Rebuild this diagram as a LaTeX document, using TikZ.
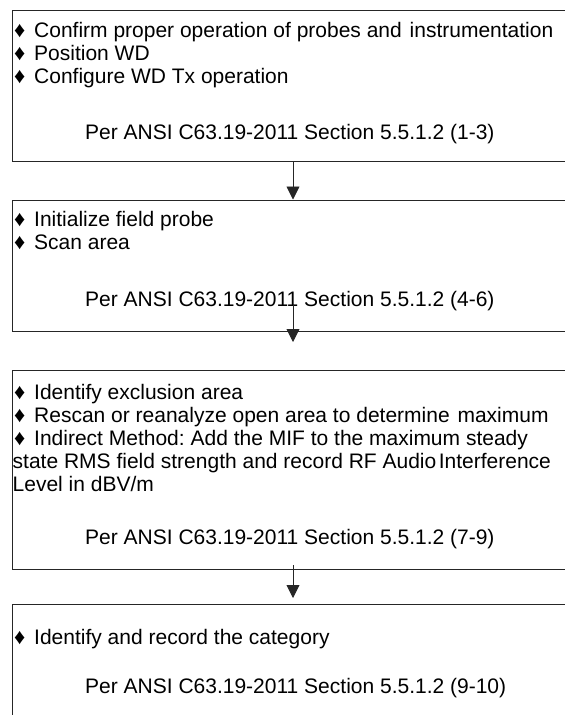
\documentclass[tikz,border=0pt]{standalone}
\usepackage{fontspec}
\setmainfont{Liberation Sans}
\usetikzlibrary{arrows.meta}
\newcommand\mydia{\makebox[20pt][l]{\fontsize{22}{22}\selectfont ♦}}
\tikzset{
  box/.style={draw=black!85, line width=0.9pt, rectangle, inner sep=0pt, anchor=north west},
  txt/.style={anchor=base west, inner sep=0pt, font=\fontsize{21}{23}\selectfont\frenchspacing},
  arr/.style={draw=black!85, line width=0.9pt, -{Triangle[length=13pt,width=13pt]}},
}
\begin{document}
\begin{tikzpicture}[x=1pt,y=-1pt]
\useasboundingbox (0,0) rectangle (565,715);
% boxes
\node[box, minimum width=570pt, minimum height=150.5pt] (b1) at (11.5,10) {};
\node[box, minimum width=570pt, minimum height=131.5pt] (b2) at (11.5,199.5) {};
\node[box, minimum width=570pt, minimum height=199pt] (b3) at (11.5,369.5) {};
\node[box, minimum width=570pt, minimum height=130pt] (b4) at (11.5,603.5) {};
% box 1 text
\node[txt] (t11) at (14,37) {\mydia Confirm proper operation of probes and\hspace{2pt} instrumentation};
\node[txt] (t12) at (14,60) {\mydia Position WD};
\node[txt] (t13) at (14,83) {\mydia Configure WD Tx operation};
\node[txt] (p1) at (85,139) {Per ANSI C63.19-2011 Section 5.5.1.2 (1-3)};
% box 2 text
\node[txt] (t21) at (14,226) {\mydia Initialize field probe};
\node[txt] (t22) at (14,249) {\mydia Scan area};
\node[txt] (p2) at (85,306) {Per ANSI C63.19-2011 Section 5.5.1.2 (4-6)};
% box 3 text
\node[txt] (t31) at (14,399) {\mydia Identify exclusion area};
\node[txt] (t32) at (14,422) {\mydia Rescan or reanalyze open area to determine\hspace{2pt} maximum};
\node[txt] (t33) at (14,445) {\mydia Indirect Method: Add the MIF to the maximum steady};
\node[txt] (t34) at (12.5,468) {state RMS field strength and record RF Audio\hspace{2.5pt}Interference};
\node[txt] (t35) at (12.5,491) {Level in dBV/m};
\node[txt] (p3) at (85,544) {Per ANSI C63.19-2011 Section 5.5.1.2 (7-9)};
% box 4 text
\node[txt] (t41) at (14,644) {\mydia Identify and record the category};
\node[txt] (p4) at (85,693) {Per ANSI C63.19-2011 Section 5.5.1.2 (9-10)};
% arrows
\coordinate (ax) at (293,0);
\coordinate (a2s) at (293,305);
\coordinate (a2e) at (293,342);
\coordinate (a3s) at (293,565);
\coordinate (a3e) at (293,598);
\draw[arr] (b1.south -| ax) -- (b2.north -| ax);
\draw[arr] (a2s) -- (a2e);
\draw[arr] (a3s) -- (a3e);
\end{tikzpicture}
\end{document}
